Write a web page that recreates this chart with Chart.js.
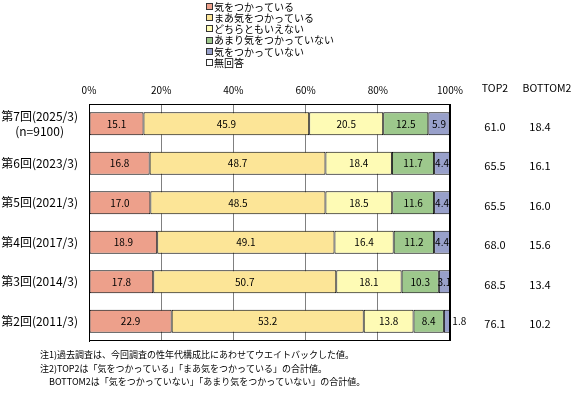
<!DOCTYPE html>
<html lang="ja">
<head>
<meta charset="utf-8">
<title>気をつかっているか</title>
<script src="https://cdn.jsdelivr.net/npm/chart.js@4.4.1/dist/chart.umd.min.js"></script>
<style>
  html, body { margin: 0; padding: 0; background: #fff; }
  #chart { display: block; }
</style>
</head>
<body>
<canvas id="chart" width="587" height="396"></canvas>
<script>
// data
const categories = [
    ['第7回(2025/3)', '(n=9100)'],
    '第6回(2023/3)',
    '第5回(2021/3)',
    '第4回(2017/3)',
    '第3回(2014/3)',
    '第2回(2011/3)'
];
const seriesNames = ['気をつかっている', 'まあ気をつかっている', 'どちらともいえない', 'あまり気をつかっていない', '気をつかっていない', '無回答'];
const kiTsukau = [15.1, 16.8, 17.0, 18.9, 17.8, 22.9];
const maaKiTsukau = [45.9, 48.7, 48.5, 49.1, 50.7, 53.2];
const dochiraTomo = [20.5, 18.4, 18.5, 16.4, 18.1, 13.8];
const amariTsukawanai = [12.5, 11.7, 11.6, 11.2, 10.3, 8.4];
const tsukawanai = [5.9, 4.4, 4.4, 4.4, 3.1, 1.8];
const muKaitou = [0, 0, 0, 0, 0, 0];
const top2 = [61.0, 65.5, 65.5, 68.0, 68.5, 76.1];
const bottom2 = [18.4, 16.1, 16.0, 15.6, 13.4, 10.2];
const xTicks = [0, 20, 40, 60, 80, 100];
const notes = [
    '注1)過去調査は、今回調査の性年代構成比にあわせてウエイトバックした値。',
    '注2)TOP2は「気をつかっている」「まあ気をつかっている」の合計値。',
    '　BOTTOM2は「気をつかっていない」「あまり気をつかっていない」の合計値。'
];

const colors = ['#eda08b', '#fce597', '#fefbb5', '#9dc88c', '#98a0ca', '#ffffff'];
const FONT = '"Noto Sans CJK JP", "Noto Sans", sans-serif';

Chart.defaults.font.family = FONT;
Chart.defaults.color = '#000';

const seriesData = [kiTsukau, maaKiTsukau, dochiraTomo, amariTsukawanai, tsukawanai, muKaitou];

// values written on the segments
const barLabels = {
    id: 'barLabels',
    afterDatasetsDraw(chart) {
        const ctx = chart.ctx;
        ctx.save();
        ctx.font = '10px ' + FONT;
        ctx.fillStyle = '#000';
        ctx.textBaseline = 'middle';
        chart.data.datasets.forEach((ds, i) => {
            const meta = chart.getDatasetMeta(i);
            meta.data.forEach((bar, j) => {
                const v = ds.data[j];
                if (!v) return;
                const text = v.toFixed(1);
                if (v < 2.5) {
                    ctx.textAlign = 'left';
                    ctx.fillText(text, Math.max(bar.x, bar.base) + 2, bar.y);
                } else {
                    ctx.textAlign = 'center';
                    ctx.fillText(text, (bar.x + bar.base) / 2, bar.y);
                }
            });
        });
        ctx.restore();
    }
};

// plot frame, TOP2/BOTTOM2 columns, legend and notes
const extras = {
    id: 'extras',
    afterDraw(chart) {
        const ctx = chart.ctx;
        const area = chart.chartArea;
        const yScale = chart.scales.y;
        ctx.save();

        ctx.strokeStyle = '#000';
        ctx.lineWidth = 1;
        ctx.strokeRect(Math.round(area.left) + 0.5, Math.round(area.top) + 0.5,
            Math.round(area.right - area.left) - 1, Math.round(area.bottom - area.top) - 1);

        ctx.fillStyle = '#000';
        ctx.textBaseline = 'middle';
        ctx.textAlign = 'center';
        ctx.font = '10.5px ' + FONT;
        ctx.fillText('TOP2', 495, 88);
        ctx.fillText('BOTTOM2', 547, 88);
        ctx.font = '11px ' + FONT;
        categories.forEach((c, i) => {
            const y = yScale.getPixelForValue(i) + 3;
            ctx.fillText(top2[i].toFixed(1), 495, y);
            ctx.fillText(bottom2[i].toFixed(1), 540, y);
        });

        // legend
        ctx.textAlign = 'left';
        ctx.font = '10px ' + FONT;
        seriesNames.forEach((name, i) => {
            const y = 7 + i * 11.2;
            ctx.fillStyle = colors[i];
            ctx.fillRect(206, Math.round(y) - 3, 6, 6);
            ctx.strokeStyle = '#333';
            ctx.strokeRect(206.5, Math.round(y) - 3.5, 6, 6);
            ctx.fillStyle = '#000';
            ctx.fillText(name, 214, y);
        });

        // notes
        ctx.font = '9px ' + FONT;
        notes.forEach((line, i) => {
            ctx.fillText(line, 40, 355 + i * 13.5);
        });
        ctx.restore();
    }
};

new Chart(document.getElementById('chart'), {
    type: 'bar',
    data: {
        labels: categories,
        datasets: seriesNames.map((name, i) => ({
            label: name,
            data: seriesData[i],
            backgroundColor: colors[i],
            borderColor: '#000',
            borderWidth: 1,
            borderSkipped: false,
            barPercentage: 0.58,
            categoryPercentage: 1
        }))
    },
    options: {
        indexAxis: 'y',
        responsive: false,
        animation: false,
        layout: { padding: { left: 0, right: 137, top: 0, bottom: 55 } },
        scales: {
            x: {
                type: 'linear',
                position: 'top',
                stacked: true,
                min: 0,
                max: 100,
                afterBuildTicks: (scale) => { scale.ticks = xTicks.map(v => ({ value: v })); },
                afterFit: (scale) => { scale.height = 104; },
                grid: {
                    color: (c) => (c.tick && (c.tick.value === 0 || c.tick.value === 100)) ? '#000' : '#808080',
                    drawTicks: false
                },
                border: { display: true, color: '#000' },
                ticks: { callback: (v) => v + '%', padding: 8, font: { size: 10 } }
            },
            y: {
                stacked: true,
                afterFit: (scale) => { scale.width = 89; },
                grid: { display: false, drawTicks: false },
                border: { display: true, color: '#000' },
                ticks: { crossAlign: 'center', padding: 11, font: { size: 12 } }
            }
        },
        plugins: {
            legend: { display: false },
            tooltip: { enabled: false }
        }
    },
    plugins: [barLabels, extras]
});
</script>
</body>
</html>
